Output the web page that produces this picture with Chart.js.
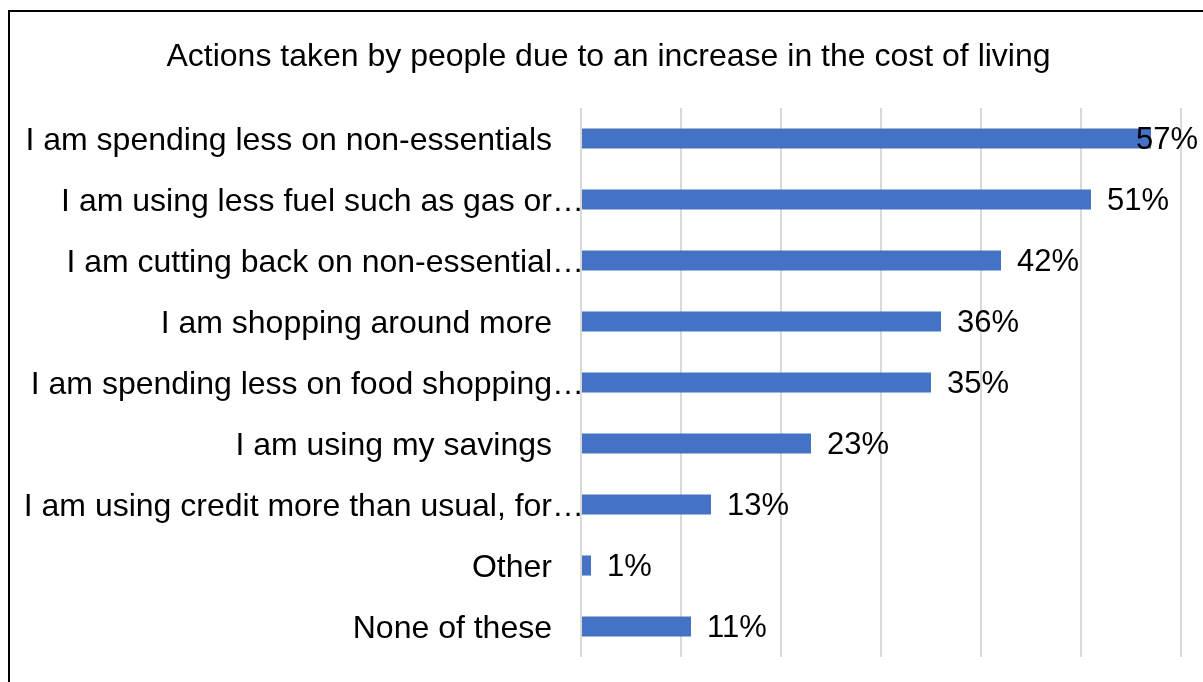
<!DOCTYPE html>
<html>
<head>
<meta charset="utf-8">
<script src="https://cdn.jsdelivr.net/npm/chart.js@4.4.0/dist/chart.umd.min.js"></script>
<style>
  html, body { margin: 0; padding: 0; background: #fff; overflow: hidden; }
  #frame { position: absolute; left: 8px; top: 10px; width: 1300px; height: 800px; border: 2px solid #000; }
  #wrap { position: absolute; left: 0; top: 0; width: 1203px; height: 682px; }
</style>
</head>
<body>
<div id="frame"></div>
<div id="wrap"><canvas id="barChart"></canvas></div>
<script>
// chart data
var chartTitle = 'Actions taken by people due to an increase in the cost of living';
var categories = [
  'I am spending less on non-essentials',
  'I am using less fuel such as gas or\u2026',
  'I am cutting back on non-essential\u2026',
  'I am shopping around more',
  'I am spending less on food shopping\u2026',
  'I am using my savings',
  'I am using credit more than usual, for\u2026',
  'Other',
  'None of these'
];
var percentValues = [57, 51, 42, 36, 35, 23, 13, 1, 11];
var axisMax = 60;

var fontFamily = "'Liberation Sans', Arial, sans-serif";
Chart.defaults.font.family = fontFamily;
Chart.defaults.color = '#000';

// title is drawn by hand so it can sit a little right of centre like the original
var titleText = {
  id: 'titleText',
  afterDraw: function (chart) {
    var ctx = chart.ctx;
    ctx.save();
    ctx.font = '32px ' + fontFamily;
    ctx.fillStyle = '#000';
    ctx.textAlign = 'center';
    ctx.textBaseline = 'alphabetic';
    ctx.fillText(chartTitle, chart.width / 2 + 7, 66);
    ctx.restore();
  }
};

// draws "57%" style labels next to each bar end
var valueLabels = {
  id: 'valueLabels',
  afterDatasetsDraw: function (chart) {
    var ctx = chart.ctx;
    var meta = chart.getDatasetMeta(0);
    ctx.save();
    ctx.font = '31px ' + fontFamily;
    ctx.fillStyle = '#000';
    ctx.textBaseline = 'middle';
    ctx.textAlign = 'left';
    meta.data.forEach(function (bar, i) {
      var txt = percentValues[i] + '%';
      var w = ctx.measureText(txt).width;
      var x = Math.min(bar.x + 16, chart.width - 5 - w);
      ctx.fillText(txt, x, bar.y + 2);
    });
    ctx.restore();
  }
};

var ctx = document.getElementById('barChart');
var barChart = new Chart(ctx, {
  type: 'bar',
  data: {
    labels: categories,
    datasets: [{
      data: percentValues,
      backgroundColor: '#4472C4',
      borderWidth: 0,
      barPercentage: 0.33,
      categoryPercentage: 1
    }]
  },
  options: {
    indexAxis: 'y',
    responsive: true,
    maintainAspectRatio: false,
    animation: false,
    layout: { padding: { left: 0, right: 22, top: 108, bottom: 25 } },
    plugins: {
      legend: { display: false },
      tooltip: { enabled: false },
      title: { display: false }
    },
    scales: {
      x: {
        min: 0,
        max: axisMax,
        ticks: { display: false, stepSize: 10 },
        grid: { color: '#d9d9d9', lineWidth: 2, drawTicks: false },
        border: { display: false }
      },
      y: {
        ticks: {
          font: { size: 32 },
          color: '#000',
          padding: -11,
          labelOffset: 3,
          autoSkip: false,
          callback: function (v, i) {
            var lbl = categories[i];
            return lbl.slice(-1) === '\u2026' ? lbl : lbl + '\u2002\u2002';
          }
        },
        grid: { display: false },
        border: { display: false },
        afterFit: function (scale) { scale.width = 581; }
      }
    }
  },
  plugins: [valueLabels, titleText]
});
</script>
</body>
</html>
